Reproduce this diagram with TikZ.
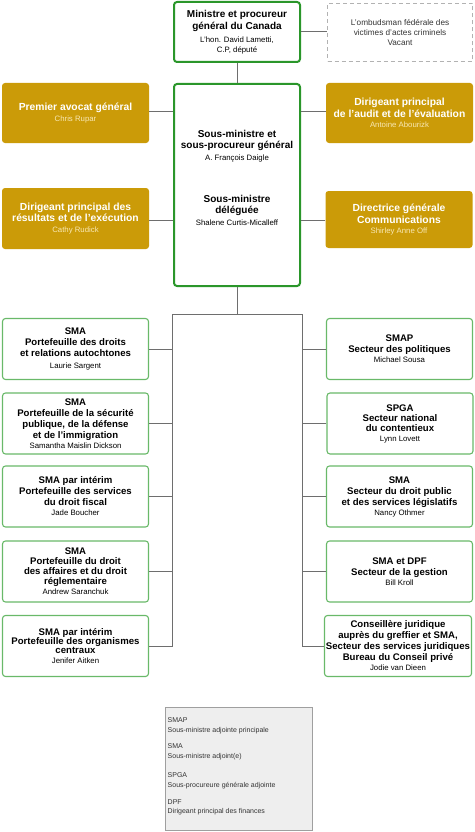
\documentclass[tikz,border=0pt]{standalone}
\usepackage{fontspec}
\setmainfont{Liberation Sans}
\definecolor{gold}{RGB}{203,155,8}
\definecolor{dgreen}{RGB}{42,150,42}
\definecolor{lgreen}{RGB}{105,185,105}
\definecolor{connc}{RGB}{110,110,110}
\definecolor{cream}{RGB}{248,232,180}
\definecolor{leggray}{RGB}{238,238,238}
\newcommand{\ttl}{\fontsize{10}{12}\selectfont\bfseries}
\newcommand{\stl}{\fontsize{9.6}{11}\selectfont\bfseries}
\newcommand{\nm}{\fontsize{7.8}{9.5}\selectfont}
\tikzset{
 topbox/.style={draw=dgreen, line width=2pt, rounded corners=3pt, fill=white, minimum width=126pt, align=center, inner sep=0pt},
 goldbox/.style={fill=gold, rounded corners=3pt, minimum width=147pt, align=center, text=white, inner sep=0pt, font=\fontsize{10.3}{11.5}\selectfont},
 subbox/.style={draw=lgreen, line width=1.1pt, rounded corners=3pt, fill=white, minimum width=146pt, minimum height=61pt, align=center, inner sep=0pt, font=\fontsize{9.6}{11}\selectfont},
 conn/.style={draw=connc, line width=1pt},
 txt/.style={align=center, inner sep=0pt},
}
\begin{document}
\begin{tikzpicture}[x=1pt,y=-1pt]
\useasboundingbox (0,0) rectangle (474,832);
% top
\node[topbox, minimum height=60pt, font=\fontsize{10}{12}\selectfont] (min) at (237,32)
 {{\bfseries Ministre et procureur}\\{\bfseries général du Canada}\\[1pt]{\nm L’hon. David Lametti,}\\[-1.5pt]{\nm C.P, député}};
\node[draw=gray!60, dashed, dash pattern=on 4pt off 3pt, line width=1pt, minimum width=145pt, minimum height=58pt, align=center, inner sep=0pt, text=black!80, font=\fontsize{8.2}{9.6}\selectfont] (omb) at (400,32.5)
 {L’ombudsman fédérale des\\victimes d’actes criminels\\Vacant};
\draw[conn] (min.east) -- (min.east -| omb.west);
% sous-ministre
\node[topbox, minimum height=202pt] (sm) at (237,185) {};
\draw[conn] (min.south) -- (sm.north);
\node[txt, font=\fontsize{10}{11.5}\selectfont] (smt1) at (237,146)
 {{\bfseries Sous-ministre et}\\{\bfseries sous-procureur général}\\{\nm A. François Daigle}};
\node[txt, font=\fontsize{10}{11.5}\selectfont] (smt2) at (237,210)
 {{\bfseries Sous-ministre}\\{\bfseries déléguée}\\{\nm Shalene Curtis-Micalleff}};
% gold boxes
\node[goldbox, minimum height=60pt] (pag) at (75.5,113)
 {{\bfseries Premier avocat général}\\[-1pt]{\color{cream}\nm Chris Rupar}};
\node[goldbox, minimum height=60pt] (dpa) at (399.5,113)
 {{\bfseries Dirigeant principal}\\{\bfseries de l’audit et de l’évaluation}\\[-1pt]{\color{cream}\nm Antoine Abourizk}};
\node[goldbox, minimum height=61pt] (dpr) at (75.5,218.5)
 {{\bfseries Dirigeant principal des}\\{\bfseries résultats et de l’exécution}\\[-0.5pt]{\color{cream}\nm Cathy Rudick}};
\node[goldbox, minimum height=57pt] (dgc) at (399,219.5)
 {{\bfseries Directrice générale}\\{\bfseries Communications}\\[-1.5pt]{\color{cream}\nm Shirley Anne Off}};
\draw[conn] (pag.east |- 0,112) -- (sm.west |- 0,112);
\draw[conn] (dpa.west |- 0,112) -- (sm.east |- 0,112);
\draw[conn] (dpr.east |- 0,220) -- (sm.west |- 0,220);
\draw[conn] (dgc.west |- 0,220) -- (sm.east |- 0,220);
% trunk
\coordinate (j) at (237,314);
\coordinate (tl) at (172,314);
\coordinate (tr) at (302,314);
% left boxes
\node[subbox] (l1) at (75.5,349)
 {{\bfseries SMA}\\{\bfseries Portefeuille des droits}\\{\bfseries et relations autochtones}\\[1pt]{\nm Laurie Sargent}};
\node[subbox] (l2) at (75.5,423.5)
 {{\bfseries SMA}\\{\bfseries Portefeuille de la sécurité}\\{\bfseries publique, de la défense}\\{\bfseries et de l’immigration}\\[-1.5pt]{\nm Samantha Maislin Dickson}};
\node[subbox] (l3) at (75.5,496.5)
 {{\bfseries SMA par intérim}\\{\bfseries Portefeuille des services}\\{\bfseries du droit fiscal}\\[-1pt]{\nm Jade Boucher}};
\node[subbox] (l4) at (75.5,571.5)
 {{\bfseries SMA}\\[-1pt]{\bfseries Portefeuille du droit}\\[-1pt]{\bfseries des affaires et du droit}\\[-1pt]{\bfseries réglementaire}\\[-1pt]{\nm Andrew Saranchuk}};
\node[subbox] (l5) at (75.5,646)
 {{\bfseries SMA par intérim}\\[-2pt]{\bfseries Portefeuille des organismes}\\[-2pt]{\bfseries centraux}\\[-1pt]{\nm Jenifer Aitken}};
% right boxes
\node[subbox] (r1) at (399.5,349)
 {{\bfseries SMAP}\\{\bfseries Secteur des politiques}\\[-1pt]{\nm Michael Sousa}};
\node[subbox] (r2) at (400,423.5)
 {{\bfseries SPGA}\\[-1pt]{\bfseries Secteur national}\\[-1pt]{\bfseries du contentieux}\\[-1pt]{\nm Lynn Lovett}};
\node[subbox] (r3) at (399.5,496.5)
 {{\bfseries SMA}\\{\bfseries Secteur du droit public}\\{\bfseries et des services législatifs}\\[-1pt]{\nm Nancy Othmer}};
\node[subbox] (r4) at (399.5,571.5)
 {{\bfseries SMA et DPF}\\{\bfseries Secteur de la gestion}\\[-1.5pt]{\nm Bill Kroll}};
\node[subbox, minimum width=147pt] (r5) at (398,646)
 {{\bfseries Conseillère juridique}\\{\bfseries auprès du greffier et SMA,}\\{\bfseries Secteur des services juridiques}\\{\bfseries Bureau du Conseil privé}\\[-1pt]{\nm Jodie van Dieen}};
% connectors
\draw[conn] (sm.south) -- (j);
\draw[conn] (tl) -- (tr);
\draw[conn] (tl) -- (tl |- l5.east) -- (l5.east);
\draw[conn] (tr) -- (tr |- r5.west) -- (r5.west);
\foreach \b in {l1,l2,l3,l4} {\draw[conn] (\b.east) -- (\b.east -| tl);}
\foreach \b in {r1,r2,r3,r4} {\draw[conn] (\b.west) -- (\b.west -| tr);}
% legend
\node[draw=gray!75, fill=leggray, line width=0.8pt, minimum width=147pt, minimum height=123pt, anchor=north west, inner sep=0pt] (leg) at (165,707) {};
\node[anchor=north west, align=left, inner sep=0pt, text=black!80, font=\fontsize{7}{9.5}\selectfont] (legt) at (167.5,717.5)
 {SMAP\\Sous-ministre adjointe principale\\[7pt]SMA\\Sous-ministre adjoint(e)\\[10pt]SPGA\\Sous-procureure générale adjointe\\[7.5pt]DPF\\Dirigeant principal des finances};
\end{tikzpicture}
\end{document}
